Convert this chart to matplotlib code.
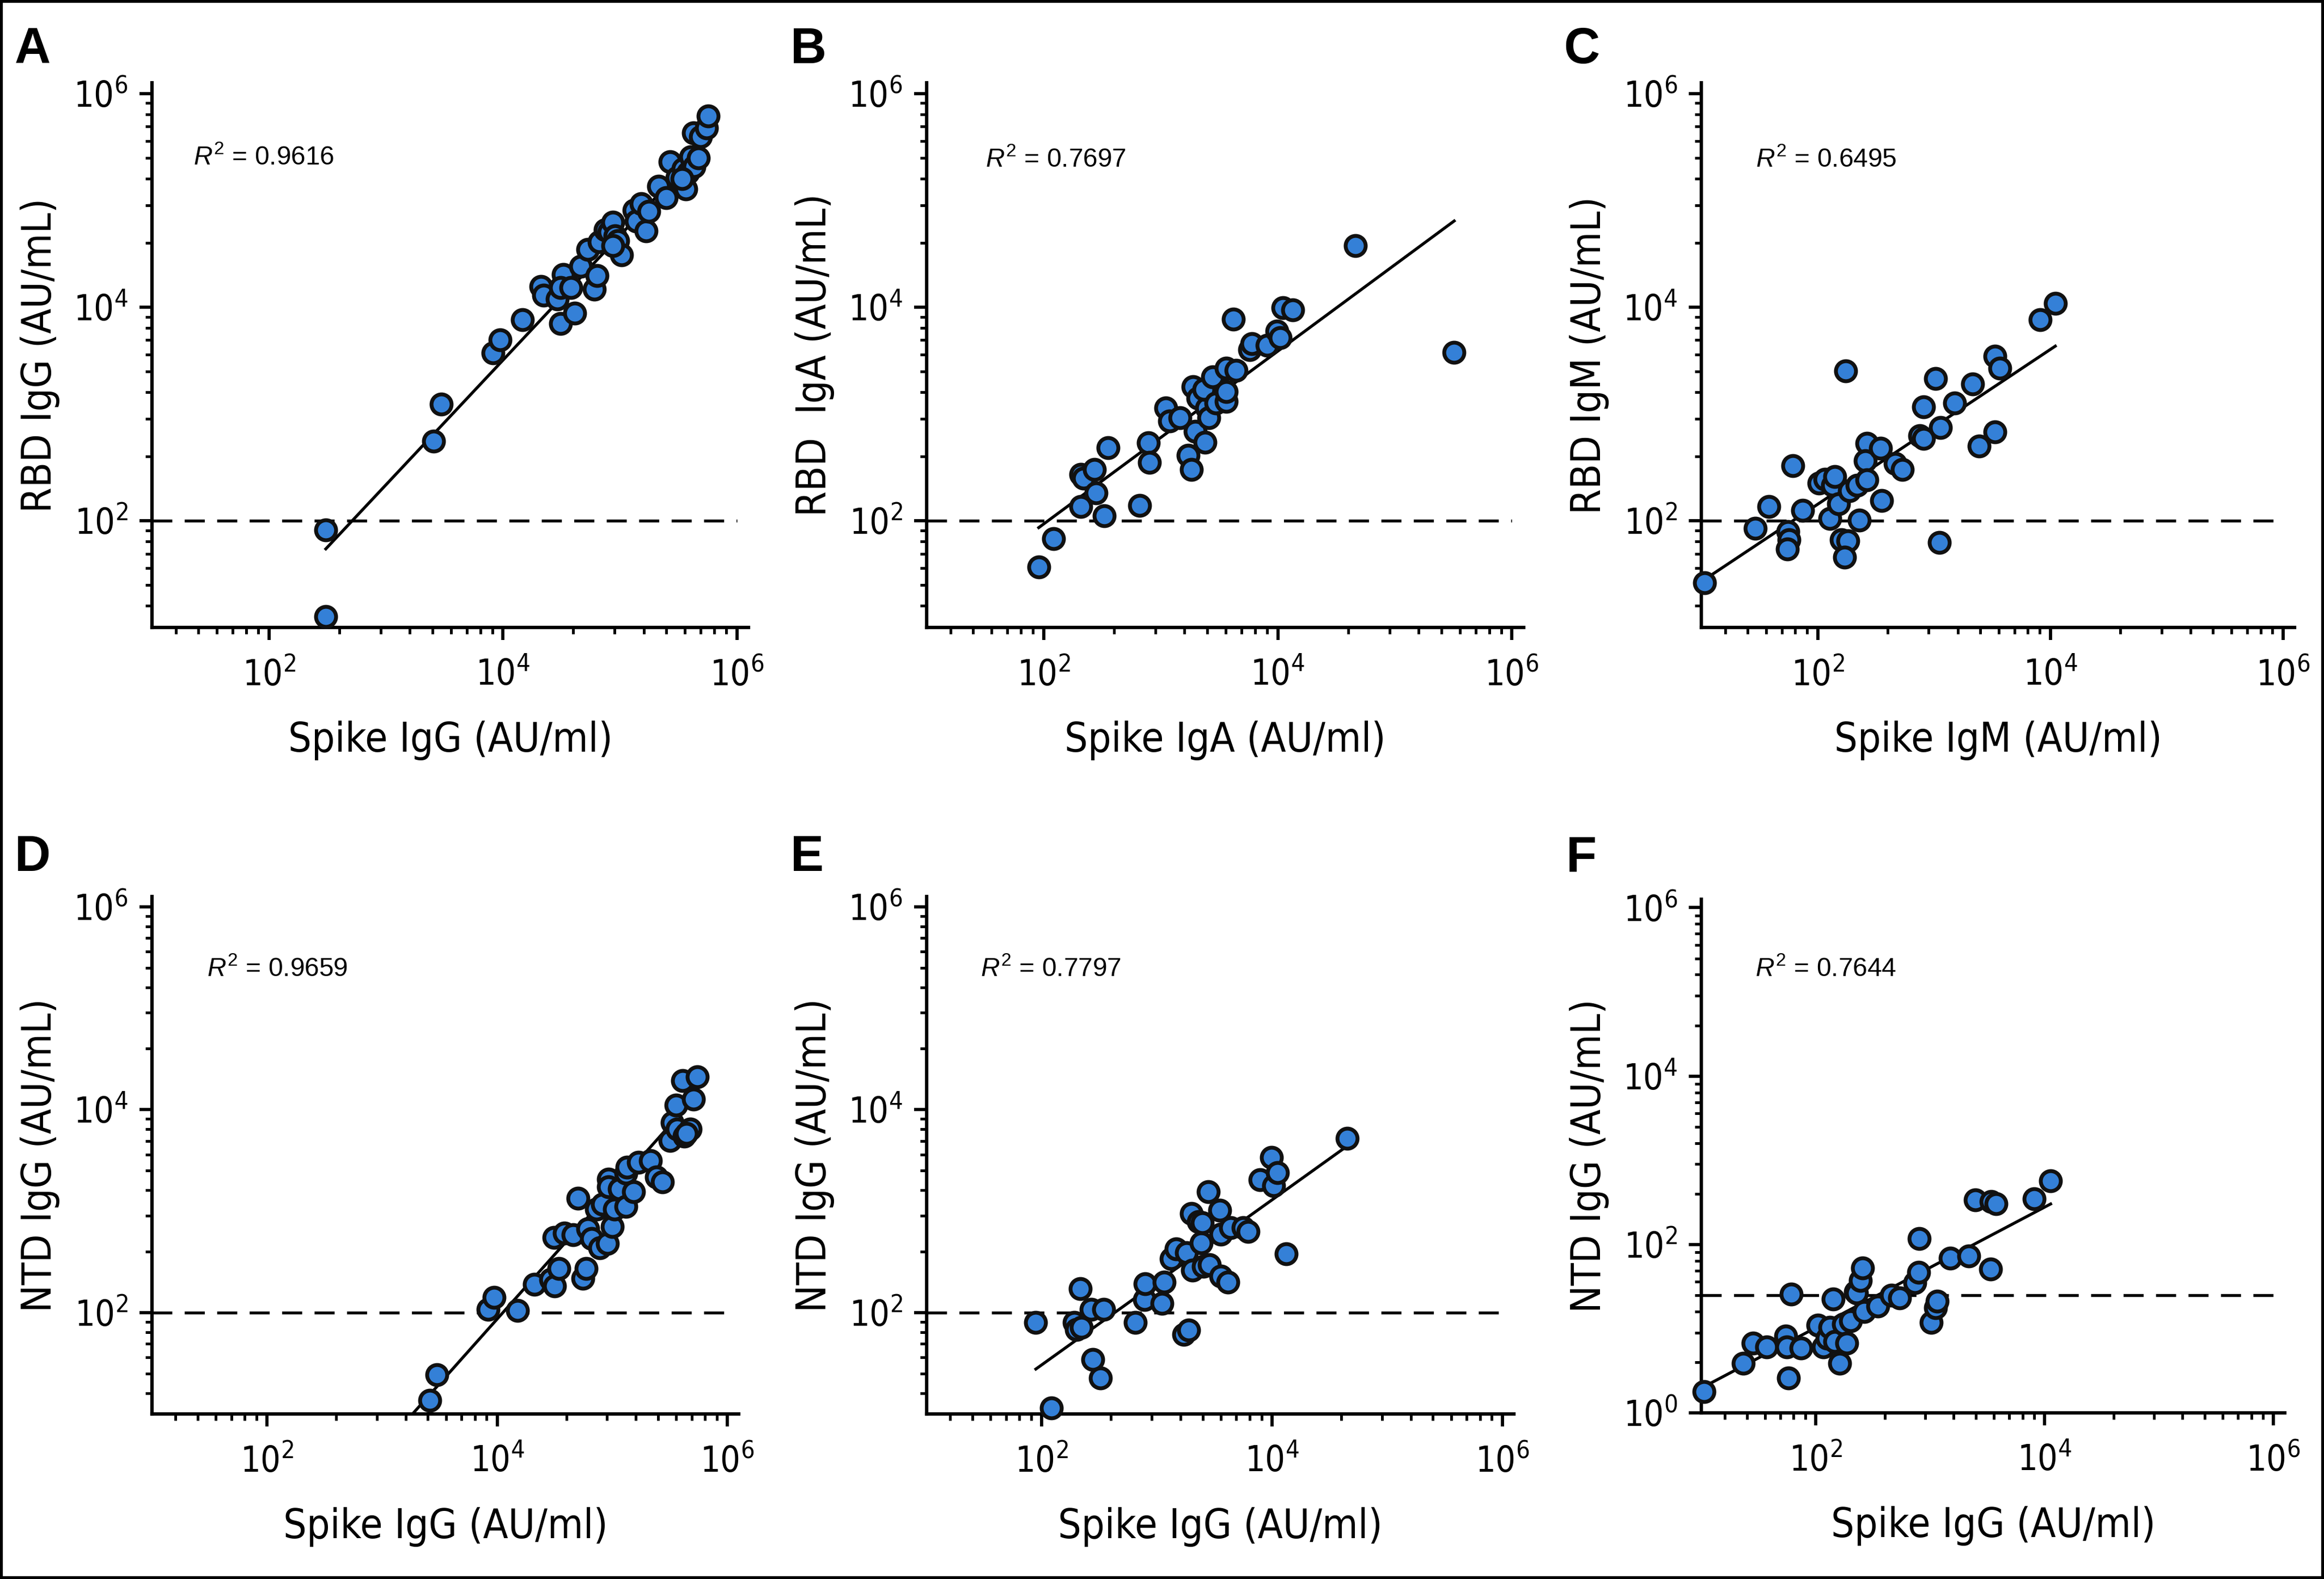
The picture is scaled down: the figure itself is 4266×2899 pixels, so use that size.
import numpy as np
import matplotlib.pyplot as plt
from matplotlib import font_manager
from matplotlib.font_manager import FontProperties
from matplotlib.patches import Rectangle
from matplotlib.ticker import FixedLocator, NullFormatter

plt.rcParams['font.family'] = ['Liberation Sans', 'DejaVu Sans']
plt.rcParams['mathtext.fontset'] = 'custom'
plt.rcParams['mathtext.rm'] = 'Liberation Sans'
plt.rcParams['mathtext.it'] = 'Liberation Sans:italic'

# valores, en log10(AU/mL)
a_x = [2.486, 2.486, 3.408, 3.471, 3.915, 3.975, 4.169, 4.326, 4.347, 4.465, 4.495, 4.516,
       4.495, 4.58, 4.613, 4.664, 4.727, 4.782, 4.803, 4.824, 4.875, 4.909, 4.939, 4.96,
       4.981, 5.015, 4.939, 5.12, 5.142, 5.184, 5.226, 5.247, 5.332, 5.395, 5.429, 5.488,
       5.539, 5.564, 5.581, 5.607, 5.636, 5.67, 5.628, 5.691, 5.742, 5.755, 5.53]
a_y = [1.912, 1.102, 2.745, 3.093, 3.569, 3.694, 3.88, 4.194, 4.111, 4.074, 3.847, 4.306,
       4.18, 4.18, 3.944, 4.38, 4.537, 4.167, 4.296, 4.611, 4.722, 4.704, 4.796, 4.667,
       4.62, 4.49, 4.574, 4.907, 4.806, 4.968, 4.713, 4.898, 5.13, 5.023, 5.361, 5.213,
       5.292, 5.106, 5.259, 5.407, 5.315, 5.398, 5.63, 5.593, 5.676, 5.787, 5.2]

b_x = [1.958, 2.084, 2.316, 2.316, 2.341, 2.434, 2.446, 2.518, 2.552, 2.821, 2.893, 2.905,
       3.044, 3.074, 3.166, 3.234, 3.263, 3.276, 3.297, 3.318, 3.377, 3.394, 3.41, 3.368,
       3.444, 3.474, 3.558, 3.558, 3.558, 3.642, 3.621, 3.76, 3.781, 3.907, 3.992, 4.021,
       4.042, 4.126, 4.661, 5.507]
b_y = [1.565, 1.829, 2.13, 2.435, 2.398, 2.477, 2.259, 2.046, 2.685, 2.144, 2.731, 2.546,
       3.056, 2.931, 2.963, 2.611, 2.477, 3.255, 2.838, 3.148, 2.736, 3.056, 2.963, 3.231,
       3.347, 3.102, 3.116, 3.208, 3.426, 3.407, 3.889, 3.602, 3.657, 3.644, 3.773, 3.713,
       3.995, 3.972, 4.574, 3.574]

c_x = [1.027, 1.463, 1.581, 1.746, 1.755, 1.738, 1.784, 1.869, 2.013, 2.063, 2.106, 2.127,
       2.148, 2.178, 2.203, 2.258, 2.233, 2.241, 2.275, 2.338, 2.355, 2.423, 2.41, 2.423,
       2.55, 2.541, 2.668, 2.727, 2.875, 2.909, 2.909, 3.015, 3.057, 3.044, 3.175, 3.332,
       3.387, 3.522, 3.522, 3.564, 3.911, 4.042]
c_y = [1.417, 1.926, 2.13, 1.898, 1.819, 1.736, 2.514, 2.097, 2.352, 2.389, 2.019, 2.329,
       2.412, 2.157, 1.819, 1.81, 1.657, 3.403, 2.282, 2.329, 2.005, 2.722, 2.56, 2.384,
       2.19, 2.676, 2.537, 2.481, 2.796, 2.769, 3.065, 3.333, 2.87, 1.796, 3.102, 3.278,
       2.699, 2.833, 3.542, 3.426, 3.88, 4.032]

d_x = [3.414, 3.474, 3.92, 3.972, 4.177, 4.323, 4.465, 4.499, 4.537, 4.495, 4.585, 4.658,
       4.743, 4.773, 4.701, 4.787, 4.821, 4.864, 4.894, 4.915, 4.957, 4.966, 4.97, 5.0,
       5.021, 5.064, 5.12, 5.129, 5.12, 5.184, 5.227, 5.334, 5.386, 5.437, 5.502, 5.523,
       5.566, 5.626, 5.678, 5.557, 5.708, 5.613, 5.738, 5.643]
d_y = [1.132, 1.385, 2.029, 2.151, 2.02, 2.278, 2.327, 2.263, 2.434, 2.741, 2.785, 2.766,
       2.337, 2.434, 3.127, 2.824, 2.727, 3.02, 2.639, 3.068, 2.678, 3.312, 3.239, 2.849,
       3.02, 3.215, 3.371, 3.434, 3.044, 3.19, 3.483, 3.498, 3.337, 3.288, 3.693, 3.873,
       3.81, 3.737, 3.81, 4.044, 4.102, 4.288, 4.322, 3.766]

e_x = [1.949, 2.086, 2.283, 2.3, 2.343, 2.334, 2.428, 2.54, 2.445, 2.51, 2.814, 2.891,
       2.9, 3.045, 3.062, 3.126, 3.169, 3.255, 3.233, 3.276, 3.298, 3.311, 3.362, 3.383,
       3.396, 3.405, 3.448, 3.456, 3.546, 3.555, 3.555, 3.619, 3.64, 3.747, 3.79, 3.897,
       3.996, 4.013, 4.047, 4.124, 4.655]
e_y = [1.902, 1.061, 1.902, 1.834, 1.853, 2.235, 2.029, 2.029, 1.535, 1.355, 1.902, 2.127,
       2.284, 2.088, 2.298, 2.528, 2.626, 2.592, 1.785, 1.829, 2.978, 2.416, 2.895, 2.685,
       2.885, 2.455, 3.188, 2.469, 3.007, 2.773, 2.357, 2.298, 2.836, 2.836, 2.797, 3.311,
       3.531, 3.247, 3.379, 2.577, 3.716]

f_x = [1.022, 1.366, 1.453, 1.573, 1.737, 1.746, 1.763, 1.784, 1.871, 2.017, 2.065, 2.099,
       2.121, 2.151, 2.164, 2.207, 2.241, 2.272, 2.302, 2.345, 2.358, 2.388, 2.409, 2.422,
       2.543, 2.659, 2.733, 2.866, 2.897, 2.905, 3.009, 3.047, 3.06, 3.177, 3.336, 3.392,
       3.526, 3.53, 3.573, 3.909, 4.052]
f_y = [0.252, 0.592, 0.827, 0.78, 0.909, 0.78, 0.416, 1.413, 0.768, 1.044, 0.78, 0.886,
       1.015, 1.355, 0.85, 0.592, 1.056, 0.827, 1.091, 1.437, 1.425, 1.572, 1.718, 1.202,
       1.267, 1.396, 1.367, 1.543, 1.672, 2.07, 1.073, 1.249, 1.326, 1.836, 1.865, 2.528,
       1.707, 2.51, 2.481, 2.54, 2.757]

# rectas de regresion (extremos, log10)
fit_x = [[2.486, 5.755], [1.958, 5.507], [1.027, 4.042], [2.486, 5.74], [1.949, 4.655], [1.022, 4.052]]
fit_y = [[1.736, 5.55], [1.935, 4.806], [1.449, 3.634], [0.01, 4.15], [1.443, 3.643], [0.311, 2.481]]

letras = ['A', 'B', 'C', 'D', 'E', 'F']
r2 = ['0.9616', '0.7697', '0.6495', '0.9659', '0.7797', '0.7644']
xlabels = ['Spike IgG (AU/ml)', 'Spike IgA (AU/ml)', 'Spike IgM (AU/ml)',
           'Spike IgG (AU/ml)', 'Spike IgG (AU/ml)', 'Spike IgG (AU/ml)']
ylabels = ['RBD IgG (AU/mL)', 'RBD  IgA (AU/mL)', 'RBD IgM (AU/mL)',
           'NTD IgG (AU/mL)', 'NTD IgG (AU/mL)', 'NTD IgG (AU/mL)']
umbral = [100, 100, 100, 100, 100, 25]
ymin = [10, 10, 10, 10, 10, 1]

datos = [(a_x, a_y), (b_x, b_y), (c_x, c_y), (d_x, d_y), (e_x, e_y), (f_x, f_y)]

posiciones = [[0.0654, 0.6026, 0.2567, 0.345], [0.3987, 0.6026, 0.2569, 0.345],
              [0.7321, 0.6026, 0.2553, 0.345], [0.0654, 0.1045, 0.2525, 0.3277],
              [0.3987, 0.1045, 0.2527, 0.3277], [0.7321, 0.1052, 0.2511, 0.3253]]
letra_pos = [(0.0062, 0.960), (0.3402, 0.960), (0.6728, 0.960),
             (0.0062, 0.4484), (0.3402, 0.4484), (0.6738, 0.4484)]
r2_pos = [(0.069, 0.85), (0.0985, 0.846), (0.092, 0.846),
          (0.094, 0.846), (0.092, 0.846), (0.092, 0.85)]

azul = '#3480D7'
tope = 10 ** 6.1

mayores = [1, 1e2, 1e4, 1e6]
menores = [m * k ** 2 for m in mayores[:-1] for k in range(2, 10)]

# buscar una fuente estrecha (tipo Univers Condensed); si no hay, Liberation Sans mas chica
estrecha = None
for f in font_manager.fontManager.ttflist:
    nom = f.fname.lower()
    if ('narrow' in nom or 'condensed' in nom) and 'mono' not in nom and 'serif' not in nom \
            and f.style == 'normal' and str(f.weight) in ('400', 'normal', 'regular'):
        if estrecha is None or 'liberation' in nom:
            estrecha = f.fname
if estrecha:
    fp_lab = FontProperties(fname=estrecha, size=18)
    fp_tick = FontProperties(fname=estrecha, size=15.5)
else:
    fp_lab = FontProperties(family='Liberation Sans', size=17.3)
    fp_tick = FontProperties(family='Liberation Sans', size=15)


def etiqueta(v):
    return r'$\mathregular{10^{%d}}$' % int(round(np.log10(v)))


fig = plt.figure(figsize=(4266 / 300, 2899 / 300), dpi=300)

for i in range(6):
    ax = fig.add_axes(posiciones[i])
    x = 10 ** np.array(datos[i][0])
    y = 10 ** np.array(datos[i][1])
    ax.set_xscale('log')
    ax.set_yscale('log')
    ax.set_xlim(10, tope)
    ax.set_ylim(ymin[i], tope)

    ax.plot([10, 1e6], [umbral[i], umbral[i]], color='black', lw=1.3,
            dashes=(6.8, 4.2), zorder=1)
    ax.plot(10 ** np.array(fit_x[i]), 10 ** np.array(fit_y[i]), color='black',
            lw=1.3, zorder=2)
    ax.scatter(x, y, s=78, facecolor=azul, edgecolor='#111111', linewidths=1.7,
               zorder=3, clip_on=(i == 3))

    for eje, lims in ((ax.xaxis, (10, tope)), (ax.yaxis, (ymin[i], tope))):
        mays = [m for m in mayores if lims[0] <= m <= lims[1]]
        eje.set_major_locator(FixedLocator(mays))
        eje.set_ticklabels([etiqueta(m) if m >= 1e2 or ymin[i] == 1 else '' for m in mays],
                           fontproperties=fp_tick)
        eje.set_minor_locator(FixedLocator([m for m in menores if lims[0] <= m <= lims[1]]))
        eje.set_minor_formatter(NullFormatter())

    for lado in ('top', 'right'):
        ax.spines[lado].set_visible(False)
    for lado in ('left', 'bottom'):
        ax.spines[lado].set_linewidth(1.5)
    ax.tick_params(which='major', length=5.5, width=1.4, pad=8)
    ax.tick_params(which='minor', length=2.8, width=1.2)
    ax.tick_params(axis='y', which='major', pad=5)

    ax.set_xlabel(xlabels[i], fontproperties=fp_lab, labelpad=12)
    ax.set_ylabel(ylabels[i], fontproperties=fp_lab, labelpad=6)

    ax.text(r2_pos[i][0], r2_pos[i][1], r'$\mathit{R}^{2}$ = ' + r2[i],
            transform=ax.transAxes, fontsize=11.5, family='Liberation Sans',
            va='baseline', ha='left')

    fig.text(letra_pos[i][0], letra_pos[i][1], letras[i], fontsize=22,
             fontweight='bold', family='Liberation Sans', va='baseline', ha='left')

fig.patches.append(Rectangle((0, 0), 1, 1, transform=fig.transFigure, fill=False,
                             lw=2.5, edgecolor='black'))

fig.savefig('out.png', dpi=300)
